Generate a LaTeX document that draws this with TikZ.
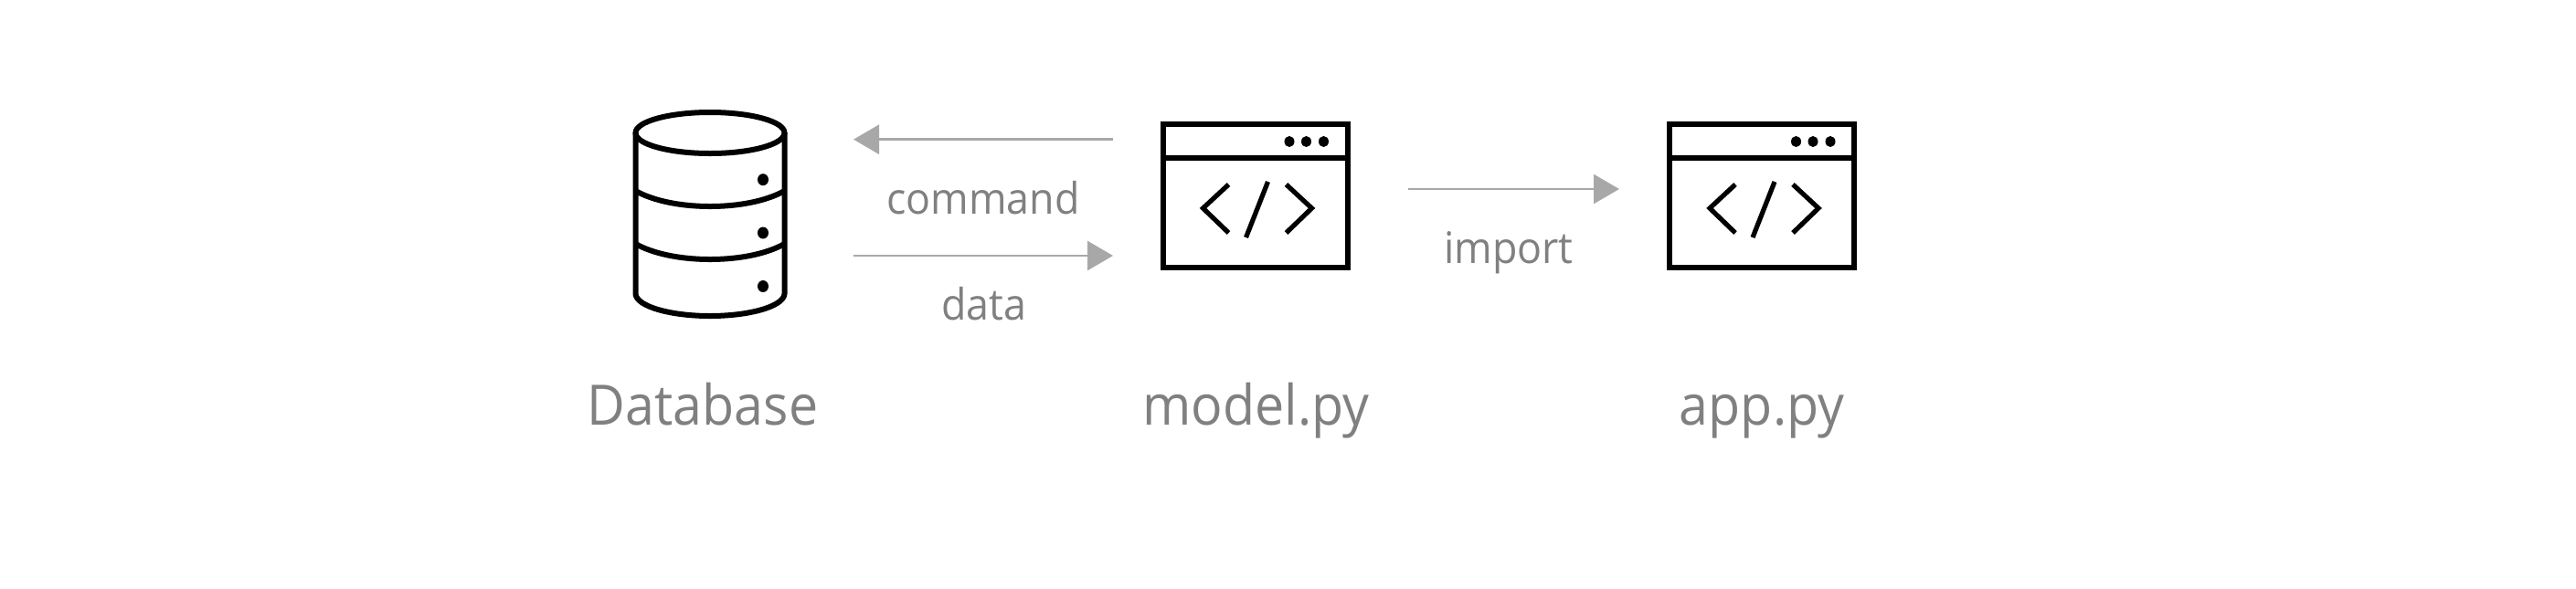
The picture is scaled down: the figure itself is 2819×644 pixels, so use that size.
\documentclass[tikz,border=0pt]{standalone}
\usepackage{fontspec}
\setmainfont{Open Sans}
\newfontfamily\narrowfont[FakeStretch=0.94]{Open Sans}
\usetikzlibrary{arrows.meta}
\definecolor{lab}{HTML}{808080}
\definecolor{arr}{HTML}{A8A8A8}
\tikzset{
  icon/.style={draw=black,line width=3pt,line join=round,fill=none},
  thin icon/.style={draw=black,line width=2.6pt},
  dot/.style={fill=black,draw=none},
  big label/.style={anchor=base,text=lab,inner sep=0pt,font=\narrowfont\fontsize{30.5pt}{33pt}\selectfont},
  small label/.style={anchor=base,text=lab,inner sep=0pt,font=\narrowfont\fontsize{23.8pt}{27pt}\selectfont},
  flow/.style={draw=arr,line width=1.3pt,-{Triangle[length=14pt,width=16pt,fill=arr]}},
  codewin/.pic={
    \draw[icon,line join=miter] (0,0) rectangle (202,157);
    \draw[icon] (0,37) -- (202,37);
    \fill[dot] (138.5,19) ellipse (5.5 and 6);
    \fill[dot] (157,19) ellipse (5.5 and 6);
    \fill[dot] (176,19) ellipse (5.5 and 6);
    \draw[thin icon,line join=miter] (72,66) -- (44,92) -- (72,119);
    \draw[thin icon] (115,63) -- (91,124);
    \draw[thin icon,line join=miter] (135,66) -- (163,92) -- (135,119);
  }
}
\begin{document}
\begin{tikzpicture}[x=0.5pt,y=-0.5pt]
\useasboundingbox[fill=white] (0,0) rectangle (2819,644);
% database icon
\draw[icon] (777,145.5) ellipse (81.5 and 22.5);
\draw[icon] (695.5,145) -- (695.5,322) .. controls (697,336) and (735,346) .. (777,346)
   .. controls (819,346) and (857,336) .. (858.5,322) -- (858.5,145);
\draw[icon] (695.5,209) .. controls (715,220) and (745,226) .. (777,226)
   .. controls (809,226) and (839,220) .. (858.5,209);
\draw[icon] (695.5,267) .. controls (715,278) and (745,284) .. (777,284)
   .. controls (809,284) and (839,278) .. (858.5,267);
\fill[dot] (835,196.7) ellipse (6 and 6.5);
\fill[dot] (835,255) ellipse (6 and 6.5);
\fill[dot] (835,313.5) ellipse (6 and 6.5);
% windows
\pic at (1272.5,136) {codewin};
\pic at (1827,136) {codewin};
% connector ends
\coordinate (cmdFrom) at (1218,152.7);
\coordinate (cmdTo) at (934,152.7);
\coordinate (dataFrom) at (934,280);
\coordinate (dataTo) at (1218,280);
\coordinate (impFrom) at (1541,207);
\coordinate (impTo) at (1772,207);
\draw[flow] (cmdFrom) -- (cmdTo);
\draw[flow] (dataFrom) -- (dataTo);
\draw[flow] (impFrom) -- (impTo);
% labels
\node[small label] (command) at (1076,234) {command};
\node[small label] (data) at (1077,350) {data};
\node[small label] (import) at (1651,288.5) {import};
\node[big label] (database) at (769,465) {Database};
\node[big label] (model) at (1374.5,465) {model.py};
\node[big label] (app) at (1928,465) {app.py};
\end{tikzpicture}
\end{document}
